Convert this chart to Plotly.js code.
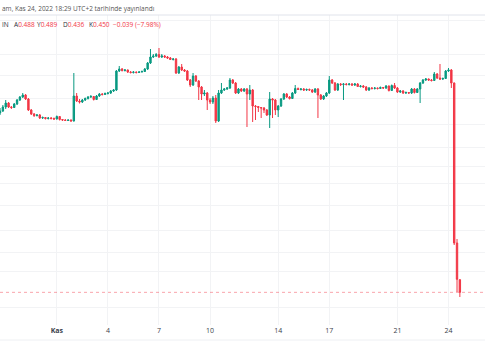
<!DOCTYPE html>
<html><head><meta charset="utf-8">
<script src="https://cdn.plot.ly/plotly-3.0.1.min.js"></script>
<style>html,body{margin:0;padding:0;background:#fff}#chart{width:485px;height:360px}</style>
</head><body><div id="chart"></div>
<script>
const dates = [
"2022-10-28 16:00","2022-10-28 20:00",
"2022-10-29 00:00","2022-10-29 04:00","2022-10-29 08:00","2022-10-29 12:00","2022-10-29 16:00","2022-10-29 20:00",
"2022-10-30 00:00","2022-10-30 04:00","2022-10-30 08:00","2022-10-30 12:00","2022-10-30 16:00","2022-10-30 20:00",
"2022-10-31 00:00","2022-10-31 04:00","2022-10-31 08:00","2022-10-31 12:00","2022-10-31 16:00","2022-10-31 20:00",
"2022-11-01 00:00","2022-11-01 04:00","2022-11-01 08:00","2022-11-01 12:00","2022-11-01 16:00","2022-11-01 20:00",
"2022-11-02 00:00","2022-11-02 04:00","2022-11-02 08:00","2022-11-02 12:00","2022-11-02 16:00","2022-11-02 20:00",
"2022-11-03 00:00","2022-11-03 04:00","2022-11-03 08:00","2022-11-03 12:00","2022-11-03 16:00","2022-11-03 20:00",
"2022-11-04 00:00","2022-11-04 04:00","2022-11-04 08:00","2022-11-04 12:00","2022-11-04 16:00","2022-11-04 20:00",
"2022-11-05 00:00","2022-11-05 04:00","2022-11-05 08:00","2022-11-05 12:00","2022-11-05 16:00","2022-11-05 20:00",
"2022-11-06 00:00","2022-11-06 04:00","2022-11-06 08:00","2022-11-06 12:00","2022-11-06 16:00","2022-11-06 20:00",
"2022-11-07 00:00","2022-11-07 04:00","2022-11-07 08:00","2022-11-07 12:00","2022-11-07 16:00","2022-11-07 20:00",
"2022-11-08 00:00","2022-11-08 04:00","2022-11-08 08:00","2022-11-08 12:00","2022-11-08 16:00","2022-11-08 20:00",
"2022-11-09 00:00","2022-11-09 04:00","2022-11-09 08:00","2022-11-09 12:00","2022-11-09 16:00","2022-11-09 20:00",
"2022-11-10 00:00","2022-11-10 04:00","2022-11-10 08:00","2022-11-10 12:00","2022-11-10 16:00","2022-11-10 20:00",
"2022-11-11 00:00","2022-11-11 04:00","2022-11-11 08:00","2022-11-11 12:00","2022-11-11 16:00","2022-11-11 20:00",
"2022-11-12 00:00","2022-11-12 04:00","2022-11-12 08:00","2022-11-12 12:00","2022-11-12 16:00","2022-11-12 20:00",
"2022-11-13 00:00","2022-11-13 04:00","2022-11-13 08:00","2022-11-13 12:00","2022-11-13 16:00","2022-11-13 20:00",
"2022-11-14 00:00","2022-11-14 04:00","2022-11-14 08:00","2022-11-14 12:00","2022-11-14 16:00","2022-11-14 20:00",
"2022-11-15 00:00","2022-11-15 04:00","2022-11-15 08:00","2022-11-15 12:00","2022-11-15 16:00","2022-11-15 20:00",
"2022-11-16 00:00","2022-11-16 04:00","2022-11-16 08:00","2022-11-16 12:00","2022-11-16 16:00","2022-11-16 20:00",
"2022-11-17 00:00","2022-11-17 04:00","2022-11-17 08:00","2022-11-17 12:00","2022-11-17 16:00","2022-11-17 20:00",
"2022-11-18 00:00","2022-11-18 04:00","2022-11-18 08:00","2022-11-18 12:00","2022-11-18 16:00","2022-11-18 20:00",
"2022-11-19 00:00","2022-11-19 04:00","2022-11-19 08:00","2022-11-19 12:00","2022-11-19 16:00","2022-11-19 20:00",
"2022-11-20 00:00","2022-11-20 04:00","2022-11-20 08:00","2022-11-20 12:00","2022-11-20 16:00","2022-11-20 20:00",
"2022-11-21 00:00","2022-11-21 04:00","2022-11-21 08:00","2022-11-21 12:00","2022-11-21 16:00","2022-11-21 20:00",
"2022-11-22 00:00","2022-11-22 04:00","2022-11-22 08:00","2022-11-22 12:00","2022-11-22 16:00","2022-11-22 20:00",
"2022-11-23 00:00","2022-11-23 04:00","2022-11-23 08:00","2022-11-23 12:00","2022-11-23 16:00","2022-11-23 20:00",
"2022-11-24 00:00","2022-11-24 04:00","2022-11-24 08:00","2022-11-24 12:00","2022-11-24 16:00"
];

const openP = [
0.988,0.994,1.006,1.018,1.006,1.0045,1.015,1.027,1.036,1.042,
1.030,0.997,0.985,0.9805,0.982,0.973,0.9745,0.9715,0.973,0.9715,
0.970,0.9775,0.9685,0.967,0.9655,0.967,0.964,1.039,1.024,1.021,
1.027,1.0315,1.036,1.0375,1.0285,1.039,1.045,1.0435,1.0465,1.048,
1.054,1.057,1.114,1.120,1.1155,1.117,1.111,1.1095,1.111,1.1095,
1.111,1.1125,1.120,1.138,1.156,1.159,1.1635,1.156,1.159,1.156,
1.153,1.1485,1.150,1.108,1.126,1.117,1.114,1.087,1.072,1.099,
1.084,1.066,1.045,1.048,1.027,1.021,1.033,0.964,1.048,1.057,
1.060,1.063,1.087,1.078,1.048,1.060,1.054,1.060,1.045,1.057,
1.009,1.0075,1.0045,1.003,0.997,0.982,1.030,1.027,0.997,1.009,
1.030,1.045,1.036,1.0315,1.048,1.0615,1.0585,1.060,1.057,1.0585,
1.057,1.051,1.060,1.042,1.030,1.039,1.048,1.087,1.078,1.057,
1.075,1.0735,1.075,1.0735,1.075,1.072,1.075,1.0675,1.069,1.066,
1.057,1.063,1.0615,1.063,1.0615,1.0645,1.063,1.069,1.0555,1.0705,
1.063,1.051,1.054,1.048,1.0495,1.048,1.060,1.0495,1.060,1.078,
1.087,1.090,1.087,1.0855,1.105,1.093,1.090,1.0915,1.114,1.117,
1.078,0.598,0.488
];
const highP = [
1.003,1.012,1.027,1.021,1.009,1.018,1.030,1.039,1.048,1.045,
1.033,1.000,0.988,0.985,0.985,0.9775,0.976,0.976,0.976,0.9745,
0.9805,0.979,0.970,0.970,0.9685,0.9685,1.108,1.048,1.030,1.030,
1.0345,1.039,1.042,1.039,1.042,1.048,1.048,1.0495,1.051,1.057,
1.060,1.117,1.129,1.123,1.120,1.1185,1.114,1.114,1.1125,1.114,
1.1155,1.123,1.141,1.180,1.165,1.168,1.183,1.165,1.162,1.159,
1.156,1.153,1.153,1.129,1.135,1.120,1.117,1.090,1.108,1.102,
1.087,1.069,1.057,1.051,1.033,1.039,1.042,1.057,1.078,1.063,
1.066,1.093,1.090,1.081,1.063,1.063,1.063,1.063,1.072,1.060,
1.012,1.009,1.006,1.006,1.000,1.051,1.033,1.030,1.012,1.033,
1.048,1.048,1.039,1.051,1.072,1.0645,1.063,1.063,1.0615,1.0615,
1.060,1.063,1.063,1.045,1.042,1.051,1.099,1.090,1.081,1.078,
1.078,1.078,1.078,1.078,1.078,1.078,1.078,1.072,1.072,1.069,
1.066,1.066,1.066,1.0645,1.0675,1.066,1.072,1.0705,1.0735,1.078,
1.066,1.057,1.057,1.0525,1.051,1.063,1.063,1.063,1.081,1.090,
1.093,1.0915,1.090,1.111,1.108,1.135,1.0945,1.117,1.123,1.120,
1.0795,0.610,0.489
];
const lowP = [
0.982,0.991,1.000,1.003,1.000,1.003,1.012,1.024,1.033,1.027,
0.994,0.982,0.976,0.9775,0.970,0.970,0.9685,0.9685,0.9685,0.967,
0.9685,0.9655,0.964,0.964,0.964,0.9625,0.9625,1.021,1.0165,1.018,
1.024,1.0285,1.033,1.0255,1.027,1.036,1.0405,1.042,1.0435,1.045,
1.051,1.054,1.111,1.1125,1.1125,1.108,1.1065,1.1065,1.1065,1.108,
1.1095,1.111,1.117,1.135,1.153,1.156,1.153,1.153,1.153,1.150,
1.147,1.1455,1.105,1.105,1.114,1.111,1.084,1.066,1.069,1.081,
1.027,1.027,1.039,0.997,1.015,1.015,0.958,0.961,1.045,1.054,
1.057,1.060,1.075,1.045,1.045,1.051,1.051,0.946,1.027,0.961,
0.967,0.991,0.973,0.988,0.979,0.943,0.973,0.982,0.976,1.006,
1.027,1.033,1.0285,1.030,1.045,1.057,1.0555,1.054,1.054,1.054,
1.048,1.048,0.973,1.027,1.027,1.036,1.045,1.075,1.054,1.054,
1.069,1.027,1.0705,1.0705,1.069,1.069,1.066,1.0645,1.063,1.054,
1.054,1.0585,1.0585,1.0585,1.060,1.060,1.060,1.0525,1.054,1.060,
1.048,1.048,1.045,1.045,1.045,1.045,1.0465,1.048,1.018,1.075,
1.084,1.084,1.0825,1.084,1.090,1.087,1.087,1.090,1.111,1.063,
0.592,0.451,0.436
];
const closeP = [
0.994,1.006,1.018,1.006,1.0045,1.015,1.027,1.036,1.042,1.030,
0.997,0.985,0.9805,0.982,0.973,0.9745,0.9715,0.973,0.9715,0.970,
0.9775,0.9685,0.967,0.9655,0.967,0.964,1.039,1.024,1.021,1.027,
1.0315,1.036,1.0375,1.0285,1.039,1.045,1.0435,1.0465,1.048,1.054,
1.057,1.114,1.120,1.1155,1.117,1.111,1.1095,1.111,1.1095,1.111,
1.1125,1.120,1.138,1.156,1.159,1.1635,1.156,1.159,1.156,1.153,
1.1485,1.150,1.108,1.126,1.117,1.114,1.087,1.072,1.099,1.084,
1.066,1.045,1.048,1.027,1.021,1.033,0.964,1.048,1.057,1.060,
1.063,1.087,1.078,1.048,1.060,1.054,1.060,1.045,1.057,1.009,
1.0075,1.0045,1.003,0.997,0.982,1.030,1.027,0.997,1.009,1.030,
1.045,1.036,1.0315,1.048,1.0615,1.0585,1.060,1.057,1.0585,1.057,
1.051,1.060,1.042,1.030,1.039,1.048,1.087,1.078,1.057,1.075,
1.0735,1.075,1.0735,1.075,1.072,1.075,1.0675,1.069,1.066,1.057,
1.063,1.0615,1.063,1.0615,1.0645,1.063,1.069,1.0555,1.0705,1.063,
1.051,1.054,1.048,1.0495,1.048,1.060,1.0495,1.060,1.078,1.087,
1.090,1.087,1.0855,1.105,1.093,1.090,1.0915,1.114,1.117,1.078,
0.598,0.489,0.450
];

const gridPrices = [1.267,1.163,1.102,1.032,0.954,0.885,0.829,0.777,0.712,0.637,0.570,0.512,0.405];
const dayTicks = ["2022-11-01","2022-11-04","2022-11-07","2022-11-10","2022-11-14","2022-11-17","2022-11-21","2022-11-24"];
const dayTickText = ["<b>Kas</b>","4","7","10","14","17","21","24"];
const headerText = "am, Kas 24, 2022 18:29 UTC+2 tarihinde yayınlandı";
const symbolTail = "IN";

const UP = "#089981", DOWN = "#F23645";
const n = closeP.length - 1;
const fmt = v => v.toFixed(3);
const chg = closeP[n] - closeP[n-1];
const pct = chg / closeP[n-1] * 100;
const minus = s => s.replace("-", "\u2212");
const val = s => '<span style="color:' + DOWN + '">' + s + '</span>';

const W = 485, plotTop = 15, plotBot = 325, H = plotBot - plotTop;
const py = pix => (plotBot - pix) / H;
const px = pix => pix / W;

const trace = {
  type: "candlestick",
  x: dates, open: openP, high: highP, low: lowP, close: closeP,
  increasing: {line: {color: UP, width: 1}, fillcolor: UP},
  decreasing: {line: {color: DOWN, width: 1}, fillcolor: DOWN},
  whiskerwidth: 0, hoverinfo: "skip", showlegend: false
};

const legendFont = {family: "Open Sans, sans-serif", size: 6.5, color: "#2a2e39"};
const annotations = [
  {text: headerText, x: px(0), y: py(8.5), xref: "paper", yref: "paper", xanchor: "left", yanchor: "middle", showarrow: false,
   font: {family: "Open Sans, sans-serif", size: 6.5, color: "#555"}},
  {text: symbolTail, x: px(0), y: py(24.5), xanchor: "left"},
  {text: "A" + val(fmt(openP[n])), x: px(11.5), y: py(24.5), xanchor: "left"},
  {text: "Y" + val(fmt(highP[n])), x: px(35), y: py(24.5), xanchor: "left"},
  {text: "D" + val(fmt(lowP[n])), x: px(60.5), y: py(24.5), xanchor: "left"},
  {text: "K" + val(fmt(closeP[n])), x: px(86.5), y: py(24.5), xanchor: "left"},
  {text: val(minus(chg.toFixed(3)) + " (" + minus(pct.toFixed(2)) + "%)"), x: px(111), y: py(24.5), xanchor: "left"}
].map((a, i) => i === 0 ? a : Object.assign({xref: "paper", yref: "paper", yanchor: "middle", showarrow: false, font: legendFont}, a));

const shapes = [
  {type: "line", xref: "paper", yref: "paper", x0: 0, x1: 1, y0: py(15), y1: py(15), line: {color: "#e0e3eb", width: 1}},
  {type: "line", xref: "paper", yref: "paper", x0: 0, x1: 1, y0: py(340), y1: py(340), line: {color: "#eef0f3", width: 1}},
  {type: "line", xref: "paper", yref: "y", x0: 0, x1: 1, y0: closeP[n], y1: closeP[n], line: {color: "rgba(242,54,69,0.45)", width: 1, dash: "dot"}}
];

const layout = {
  width: 485, height: 360,
  margin: {l: 0, r: 0, t: plotTop, b: 360 - plotBot, pad: 0},
  paper_bgcolor: "#fff", plot_bgcolor: "#fff",
  showlegend: false,
  xaxis: {
    type: "date", range: ["2022-10-28 15:57", "2022-11-26 03:26"],
    tickmode: "array", tickvals: dayTicks, ticktext: dayTickText,
    showgrid: true, gridcolor: "#f2f3f5", gridwidth: 1,
    zeroline: false, showline: false, ticks: "", ticklen: 0,
    tickfont: {family: "Open Sans, sans-serif", size: 7, color: "#3a3e49"},
    rangeslider: {visible: false}, fixedrange: true
  },
  yaxis: {
    range: [0.352, 1.282], tickmode: "array", tickvals: gridPrices,
    showticklabels: false, showgrid: true, gridcolor: "#f2f3f5", gridwidth: 1,
    zeroline: false, showline: false, ticks: "", fixedrange: true
  },
  annotations: annotations, shapes: shapes
};

Plotly.newPlot("chart", [trace], layout, {staticPlot: true, displayModeBar: false});
</script>
</body></html>
